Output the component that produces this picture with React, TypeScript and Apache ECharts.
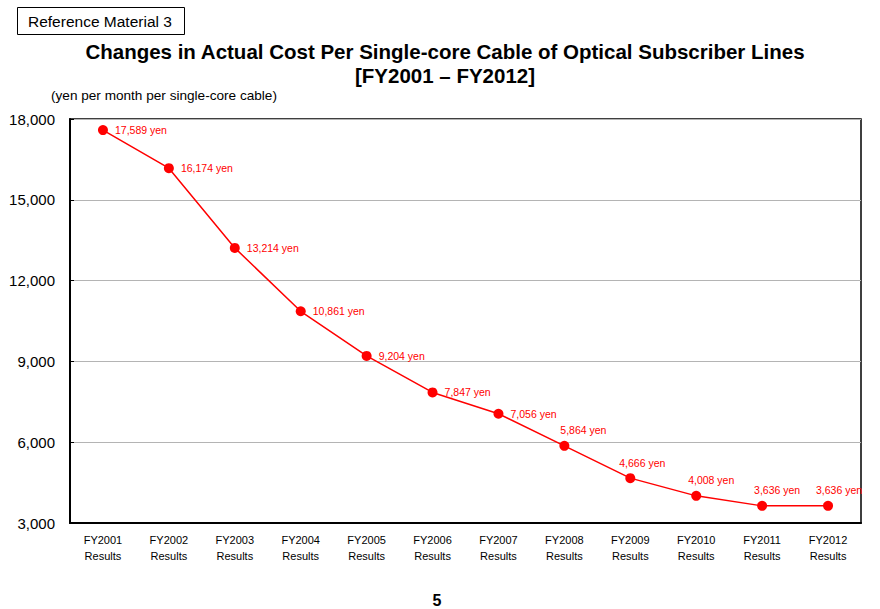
import React, { useEffect, useRef } from "react";
import * as echarts from "echarts";

const categories = [
  "FY2001\nResults", "FY2002\nResults", "FY2003\nResults", "FY2004\nResults",
  "FY2005\nResults", "FY2006\nResults", "FY2007\nResults", "FY2008\nResults",
  "FY2009\nResults", "FY2010\nResults", "FY2011\nResults", "FY2012\nResults",
];
const costValues = [17589, 16174, 13214, 10861, 9204, 7847, 7056, 5864, 4666, 4008, 3636, 3636];
const labelPlacement = ["right", "right", "right", "right", "right", "right", "right", "top", "top", "top", "top", "top"];
const labelOffsetX = [0, 0, 0, 0, 0, 0, 0, 19, 12, 15, 15, 11];

const FONT = "'Liberation Sans', Arial, sans-serif";

export default function App() {
  const ref = useRef<HTMLDivElement>(null);
  useEffect(() => {
    document.body.style.margin = "0";
    if (!ref.current) return;
    const chart = echarts.init(ref.current, undefined, { renderer: "svg" });
    const data = costValues.map((v, i) => ({
      value: v,
      label: {
        position: labelPlacement[i],
        distance: labelPlacement[i] === "right" ? 7 : 5,
        offset: [labelOffsetX[i], 0],
      },
    }));
    chart.setOption({
      animation: false,
      backgroundColor: "#fff",
      textStyle: { fontFamily: FONT },
      title: {
        text: "Changes in Actual Cost Per Single-core Cable of Optical Subscriber Lines\n[FY2001 – FY2012]",
        left: 440,
        top: 34,
        textAlign: "center",
        textStyle: { fontFamily: FONT, fontSize: 20.5, fontWeight: "bold", color: "#000", lineHeight: 24 },
      },
      graphic: [
        {
          type: "rect",
          shape: { x: 17.5, y: 7.5, width: 167, height: 27 },
          style: { fill: "#fff", stroke: "#000", lineWidth: 1 },
        },
        {
          type: "text",
          x: 28,
          y: 21,
          style: { text: "Reference Material 3", font: `15.5px ${FONT}`, fill: "#000", textVerticalAlign: "middle" },
        },
        {
          type: "text",
          x: 51,
          y: 95,
          style: { text: "(yen per month per single-core cable)", font: `13.6px ${FONT}`, fill: "#000", textVerticalAlign: "middle" },
        },
        {
          type: "text",
          x: 437,
          y: 600,
          style: { text: "5", font: `bold 16px ${FONT}`, fill: "#000", textAlign: "center", textVerticalAlign: "middle" },
        },
      ],
      grid: {
        left: 70,
        right: 19,
        top: 119,
        bottom: 86,
        show: true,
        borderColor: "#000",
        borderWidth: 1.5,
        backgroundColor: "transparent",
      },
      xAxis: {
        type: "category",
        data: categories,
        boundaryGap: true,
        axisLine: { lineStyle: { color: "#000", width: 2 } },
        axisTick: { inside: true, length: 4, lineStyle: { color: "#000" } },
        axisLabel: { color: "#000", fontSize: 11, lineHeight: 16, margin: 9, fontFamily: FONT, interval: 0 },
      },
      yAxis: {
        type: "value",
        min: 3000,
        max: 18000,
        interval: 3000,
        axisLine: { show: true, lineStyle: { color: "#000", width: 2 } },
        axisTick: { show: true, inside: true, length: 4, lineStyle: { color: "#000" } },
        splitLine: { lineStyle: { color: "#b4b4b4", width: 1 } },
        axisLabel: {
          color: "#000",
          fontSize: 15,
          margin: 15,
          fontFamily: FONT,
          formatter: (v: number) => v.toLocaleString("en-US"),
        },
      },
      series: [
        {
          type: "line",
          data,
          symbol: "circle",
          symbolSize: 10,
          lineStyle: { color: "#ff0000", width: 1.5 },
          itemStyle: { color: "#ff0000" },
          label: {
            show: true,
            color: "#ff0000",
            fontSize: 10.5,
            fontFamily: FONT,
            formatter: (p: any) => `${Number(p.value).toLocaleString("en-US")} yen`,
          },
        },
      ],
    });
    return () => chart.dispose();
  }, []);
  return <div ref={ref} style={{ width: 880, height: 609 }} />;
}
